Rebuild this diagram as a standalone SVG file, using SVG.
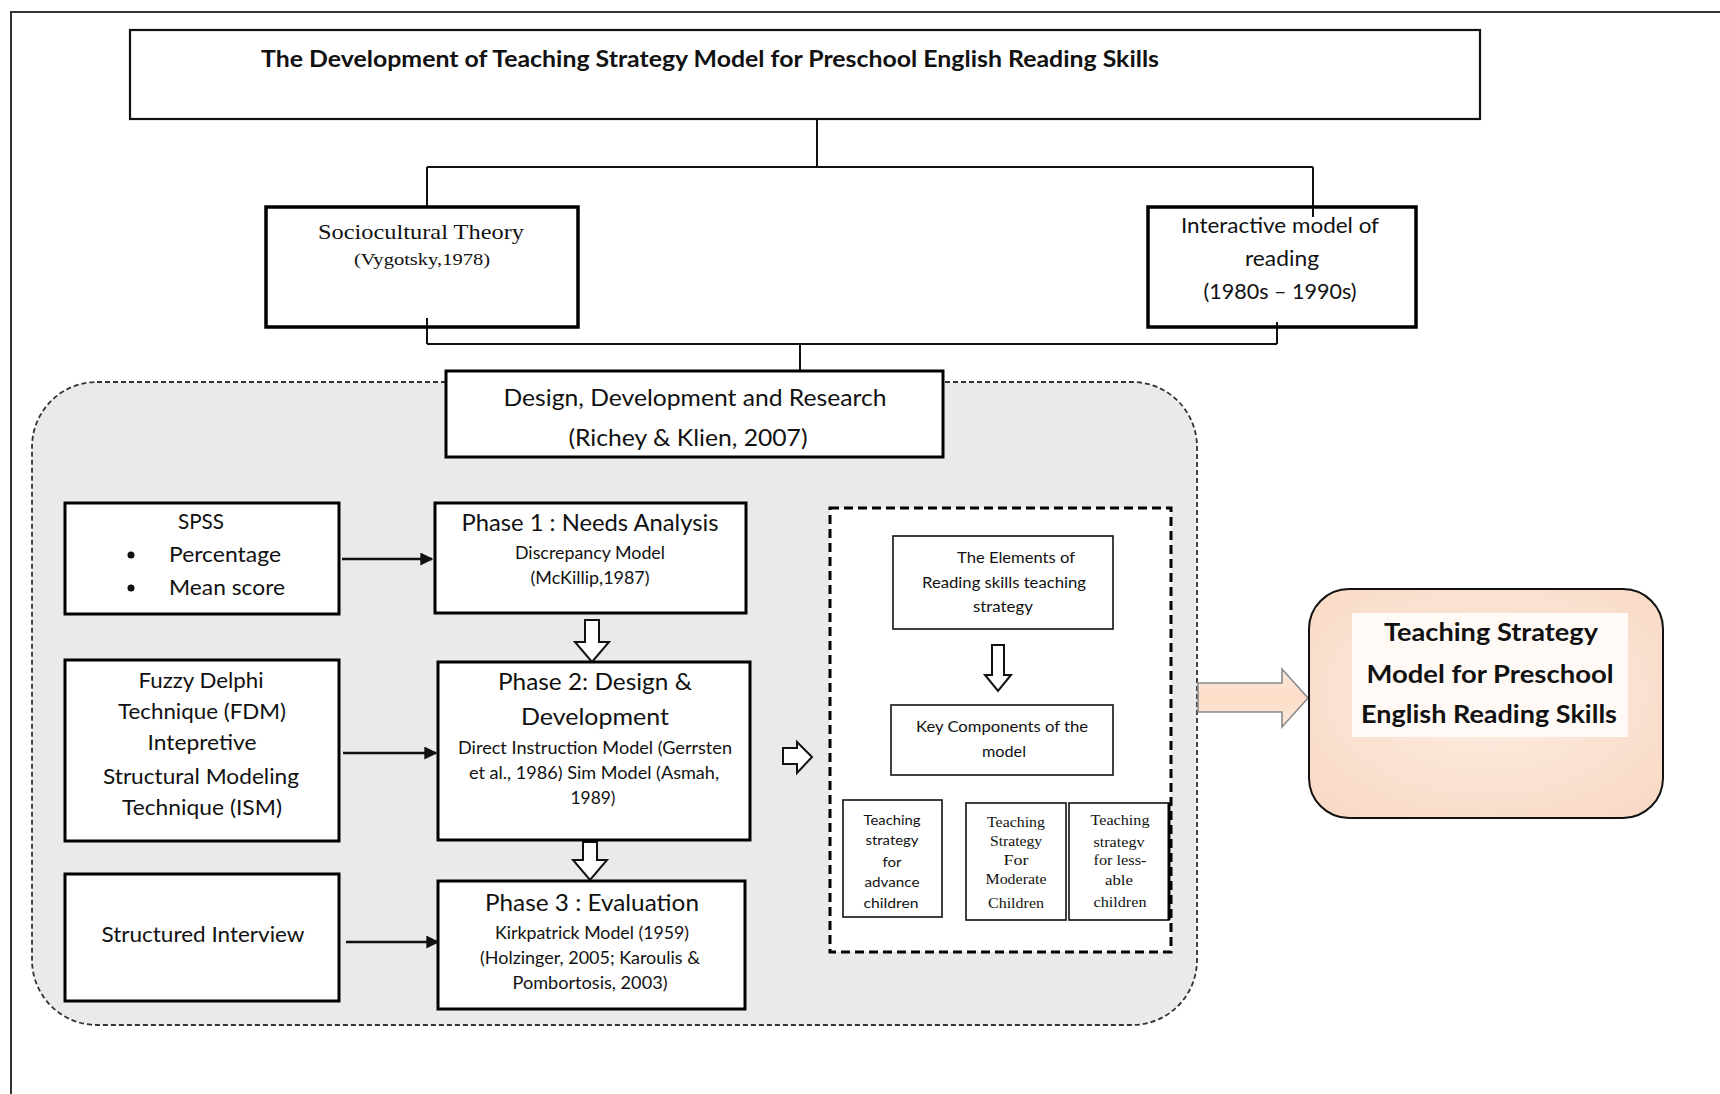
<svg xmlns="http://www.w3.org/2000/svg" width="1720" height="1094" viewBox="0 0 1720 1094">
  <defs>
    <style>
      .box { fill: #ffffff; stroke: #000; stroke-width: 3; }
      .thin { fill: #ffffff; stroke: #111; stroke-width: 1.6; }
      .conn { fill: none; stroke: #111; stroke-width: 2; }
      .flow { fill: none; stroke: #111; stroke-width: 2.6; }
      .hollow { fill: #ffffff; stroke: #111; stroke-width: 2; stroke-linejoin: miter; }
      .sans { font-family: Lato, "Open Sans", "Liberation Sans", sans-serif; fill: #111; text-anchor: middle; }
      .serif { font-family: "Liberation Serif", "DejaVu Serif", serif; fill: #111; text-anchor: middle; }
      .start { text-anchor: start; }
      .bold { font-weight: bold; }
    </style>
    <marker id="arrowHead" viewBox="0 0 10 10" refX="9" refY="5" markerWidth="5" markerHeight="5" orient="auto" markerUnits="strokeWidth">
      <path d="M0,0 L10,5 L0,10 Z" fill="#111"/>
    </marker>
    <radialGradient id="peach" cx="50%" cy="45%" r="65%">
      <stop offset="0" stop-color="#fdeee4"/>
      <stop offset="1" stop-color="#f9dac6"/>
    </radialGradient>
    <linearGradient id="peachArrow" x1="0" y1="0" x2="0" y2="1">
      <stop offset="0" stop-color="#fbe9dd"/>
      <stop offset="0.5" stop-color="#fcdcc7"/>
      <stop offset="1" stop-color="#fbe9dd"/>
    </linearGradient>
  </defs>

  <rect x="0" y="0" width="1720" height="1094" fill="#ffffff"/>

  <!-- page frame -->
  <line x1="10" y1="12" x2="1720" y2="12" stroke="#333" stroke-width="2"/>
  <line x1="11" y1="12" x2="11" y2="1094" stroke="#333" stroke-width="2"/>

  <!-- shaded methodology container -->
  <rect id="methodology-area" x="32" y="382" width="1165" height="643" rx="65" ry="65" fill="#eaeaea" stroke="#333" stroke-width="1.8" stroke-dasharray="5 3"/>

  <!-- connectors -->
  <g id="connectors">
    <line class="conn" x1="817" y1="119" x2="817" y2="167"/>
    <line class="conn" x1="427" y1="167" x2="1313" y2="167" stroke-width="2.5"/>
    <line class="conn" x1="427" y1="167" x2="427" y2="206"/>
    <line class="conn" x1="1313" y1="167" x2="1313" y2="217"/>
    <line class="conn" x1="427" y1="318" x2="427" y2="344"/>
    <line class="conn" x1="1277" y1="322" x2="1277" y2="344"/>
    <line class="conn" x1="427" y1="344" x2="1277" y2="344" stroke-width="2.5"/>
    <line class="conn" x1="800" y1="344" x2="800" y2="371"/>

    <line class="flow" x1="342" y1="559" x2="432" y2="559" marker-end="url(#arrowHead)"/>
    <line class="flow" x1="343" y1="753" x2="436" y2="753" marker-end="url(#arrowHead)"/>
    <line class="flow" x1="346" y1="942" x2="438" y2="942" marker-end="url(#arrowHead)"/>

    <!-- hollow block arrows -->
    <polygon class="hollow" points="585,620 599,620 599,642 609,642 592,662 575,642 585,642"/>
    <polygon class="hollow" points="583,842 597,842 597,860 607,860 590,880 573,860 583,860"/>
    <polygon class="hollow" points="783,748 797,748 797,742 812,757 797,773 797,764 783,764"/>
    <polygon points="1198,683 1282,683 1282,669 1308,698 1282,727 1282,712 1198,712" fill="url(#peachArrow)" stroke="#8a8a8a" stroke-width="1.6"/>
  </g>

  <!-- title -->
  <g id="title">
    <rect x="130" y="30" width="1350" height="89" fill="#fff" stroke="#111" stroke-width="2.2"/>
    <text class="sans bold" x="710" y="67" font-size="22" textLength="898" lengthAdjust="spacingAndGlyphs">The Development of Teaching Strategy Model for Preschool English Reading Skills</text>
  </g>

  <g id="sociocultural-theory">
    <rect x="266" y="207" width="312" height="120" fill="#fff" stroke="#000" stroke-width="3.5"/>
    <text class="serif" x="421" y="239" font-size="22" textLength="206" lengthAdjust="spacingAndGlyphs">Sociocultural Theory</text>
    <text class="serif" x="422" y="265" font-size="17" textLength="136" lengthAdjust="spacingAndGlyphs">(Vygotsky,1978)</text>
    <line class="conn" x1="427" y1="318" x2="427" y2="327"/>
  </g>

  <g id="interactive-model">
    <rect x="1148" y="207" width="268" height="120" fill="#fff" stroke="#000" stroke-width="3.5"/>
    <text class="sans" x="1280" y="233" font-size="21" textLength="198" lengthAdjust="spacingAndGlyphs">Interactive model of</text>
    <text class="sans" x="1282" y="266" font-size="21" textLength="74" lengthAdjust="spacingAndGlyphs">reading</text>
    <text class="sans" x="1280" y="299" font-size="21" textLength="153" lengthAdjust="spacingAndGlyphs">(1980s – 1990s)</text>
    <line class="conn" x1="1313" y1="207" x2="1313" y2="217"/>
    <line class="conn" x1="1277" y1="322" x2="1277" y2="327"/>
  </g>

  <g id="design-development-research">
    <rect class="box" x="446" y="371" width="497" height="86"/>
    <text class="sans" x="695" y="406" font-size="24" textLength="383" lengthAdjust="spacingAndGlyphs">Design, Development and Research</text>
    <text class="sans" x="688" y="446" font-size="24" textLength="239" lengthAdjust="spacingAndGlyphs">(Richey &amp; Klien, 2007)</text>
  </g>

  <g id="spss">
    <rect class="box" x="65" y="503" width="274" height="111"/>
    <text class="sans" x="201" y="529" font-size="22" textLength="46" lengthAdjust="spacingAndGlyphs">SPSS</text>
    <circle cx="131" cy="555" r="3.5" fill="#111"/>
    <circle cx="131" cy="588" r="3.5" fill="#111"/>
    <text class="sans start" x="169" y="562" font-size="22" textLength="112" lengthAdjust="spacingAndGlyphs">Percentage</text>
    <text class="sans start" x="169" y="595" font-size="22" textLength="116" lengthAdjust="spacingAndGlyphs">Mean score</text>
  </g>

  <g id="phase-1">
    <rect class="box" x="435" y="503" width="311" height="110"/>
    <text class="sans" x="590" y="531" font-size="24" textLength="257" lengthAdjust="spacingAndGlyphs">Phase 1 : Needs Analysis</text>
    <text class="sans" x="590" y="559" font-size="17" textLength="150" lengthAdjust="spacingAndGlyphs">Discrepancy Model</text>
    <text class="sans" x="590" y="584" font-size="17" textLength="119" lengthAdjust="spacingAndGlyphs">(McKillip,1987)</text>
  </g>

  <g id="fuzzy-delphi-ism">
    <rect class="box" x="65" y="660" width="274" height="181"/>
    <text class="sans" x="201" y="688" font-size="22" textLength="125" lengthAdjust="spacingAndGlyphs">Fuzzy Delphi</text>
    <text class="sans" x="202" y="719" font-size="22" textLength="168" lengthAdjust="spacingAndGlyphs">Technique (FDM)</text>
    <text class="sans" x="202" y="750" font-size="22" textLength="109" lengthAdjust="spacingAndGlyphs">Intepretive</text>
    <text class="sans" x="201" y="784" font-size="22" textLength="196" lengthAdjust="spacingAndGlyphs">Structural Modeling</text>
    <text class="sans" x="202" y="815" font-size="22" textLength="160" lengthAdjust="spacingAndGlyphs">Technique (ISM)</text>
  </g>

  <g id="phase-2">
    <rect class="box" x="438" y="662" width="312" height="178"/>
    <text class="sans" x="595" y="690" font-size="24" textLength="194" lengthAdjust="spacingAndGlyphs">Phase 2: Design &amp;</text>
    <text class="sans" x="595" y="725" font-size="24" textLength="148" lengthAdjust="spacingAndGlyphs">Development</text>
    <text class="sans" x="595" y="754" font-size="17" textLength="274" lengthAdjust="spacingAndGlyphs">Direct Instruction Model (Gerrsten</text>
    <text class="sans" x="594" y="779" font-size="17" textLength="250" lengthAdjust="spacingAndGlyphs">et al., 1986) Sim Model (Asmah,</text>
    <text class="sans" x="593" y="804" font-size="17" textLength="45" lengthAdjust="spacingAndGlyphs">1989)</text>
  </g>

  <g id="structured-interview">
    <rect class="box" x="65" y="874" width="274" height="127"/>
    <text class="sans" x="203" y="942" font-size="22" textLength="203" lengthAdjust="spacingAndGlyphs">Structured Interview</text>
  </g>

  <g id="phase-3">
    <rect class="box" x="438" y="881" width="307" height="128"/>
    <text class="sans" x="592" y="911" font-size="24" textLength="214" lengthAdjust="spacingAndGlyphs">Phase 3 : Evaluation</text>
    <text class="sans" x="592" y="939" font-size="17" textLength="194" lengthAdjust="spacingAndGlyphs">Kirkpatrick Model (1959)</text>
    <text class="sans" x="590" y="964" font-size="17" textLength="220" lengthAdjust="spacingAndGlyphs">(Holzinger, 2005; Karoulis &amp;</text>
    <text class="sans" x="590" y="989" font-size="17" textLength="155" lengthAdjust="spacingAndGlyphs">Pombortosis, 2003)</text>
  </g>

  <g id="model-components">
    <rect x="830" y="508" width="341" height="444" fill="#fff" stroke="#000" stroke-width="3" stroke-dasharray="9 5"/>

    <g id="reading-skill-elements">
      <rect class="thin" x="893" y="536" width="220" height="93"/>
      <text class="sans" x="1016" y="563" font-size="15" textLength="118" lengthAdjust="spacingAndGlyphs">The Elements of</text>
      <text class="sans" x="1004" y="588" font-size="15" textLength="164" lengthAdjust="spacingAndGlyphs">Reading skills teaching</text>
      <text class="sans" x="1003" y="612" font-size="15" textLength="60" lengthAdjust="spacingAndGlyphs">strategy</text>
    </g>

    <polygon class="hollow" points="992,645 1004,645 1004,675 1011,675 998,691 985,675 992,675"/>

    <g id="key-components">
      <rect class="thin" x="891" y="705" width="222" height="70"/>
      <text class="sans" x="1002" y="732" font-size="15" textLength="172" lengthAdjust="spacingAndGlyphs">Key Components of the</text>
      <text class="sans" x="1004" y="757" font-size="15" textLength="44" lengthAdjust="spacingAndGlyphs">model</text>
    </g>

    <g id="advance-children">
      <rect class="thin" x="843" y="800" width="99" height="117"/>
      <text class="sans" x="892" y="825" font-size="14" textLength="57" lengthAdjust="spacingAndGlyphs">Teaching</text>
      <text class="sans" x="892" y="845" font-size="14" textLength="53" lengthAdjust="spacingAndGlyphs">strategy</text>
      <text class="sans" x="892" y="867" font-size="14" textLength="19" lengthAdjust="spacingAndGlyphs">for</text>
      <text class="sans" x="892" y="887" font-size="14" textLength="55" lengthAdjust="spacingAndGlyphs">advance</text>
      <text class="sans" x="891" y="908" font-size="14" textLength="55" lengthAdjust="spacingAndGlyphs">children</text>
    </g>

    <g id="moderate-children">
      <rect class="thin" x="966" y="803" width="100" height="117"/>
      <text class="serif" x="1016" y="827" font-size="15" textLength="58" lengthAdjust="spacingAndGlyphs">Teaching</text>
      <text class="serif" x="1016" y="846" font-size="15" textLength="52" lengthAdjust="spacingAndGlyphs">Strategy</text>
      <text class="serif" x="1016" y="865" font-size="15" textLength="25" lengthAdjust="spacingAndGlyphs">For</text>
      <text class="serif" x="1016" y="884" font-size="15" textLength="61" lengthAdjust="spacingAndGlyphs">Moderate</text>
      <text class="serif" x="1016" y="908" font-size="15" textLength="56" lengthAdjust="spacingAndGlyphs">Children</text>
    </g>

    <g id="less-able-children">
      <rect class="thin" x="1069" y="803" width="100" height="117"/>
      <line x1="1169" y1="803" x2="1169" y2="920" stroke="#000" stroke-width="3"/>
      <text class="serif" x="1120" y="825" font-size="15" textLength="59" lengthAdjust="spacingAndGlyphs">Teaching</text>
      <text class="serif" x="1119" y="847" font-size="15" textLength="51" lengthAdjust="spacingAndGlyphs">strategv</text>
      <text class="serif" x="1120" y="865" font-size="15" textLength="53" lengthAdjust="spacingAndGlyphs">for less-</text>
      <text class="serif" x="1119" y="885" font-size="15" textLength="28" lengthAdjust="spacingAndGlyphs">able</text>
      <text class="serif" x="1120" y="907" font-size="15" textLength="53" lengthAdjust="spacingAndGlyphs">children</text>
    </g>
  </g>

  <g id="teaching-strategy-model">
    <rect x="1309" y="589" width="354" height="229" rx="40" ry="40" fill="url(#peach)" stroke="#111" stroke-width="2"/>
    <rect x="1352" y="613" width="276" height="124" fill="#fffaf6"/>
    <text class="sans bold" x="1491" y="641" font-size="25" textLength="214" lengthAdjust="spacingAndGlyphs">Teaching Strategy</text>
    <text class="sans bold" x="1490" y="683" font-size="25" textLength="247" lengthAdjust="spacingAndGlyphs">Model for Preschool</text>
    <text class="sans bold" x="1489" y="723" font-size="25" textLength="256" lengthAdjust="spacingAndGlyphs">English Reading Skills</text>
  </g>
</svg>
